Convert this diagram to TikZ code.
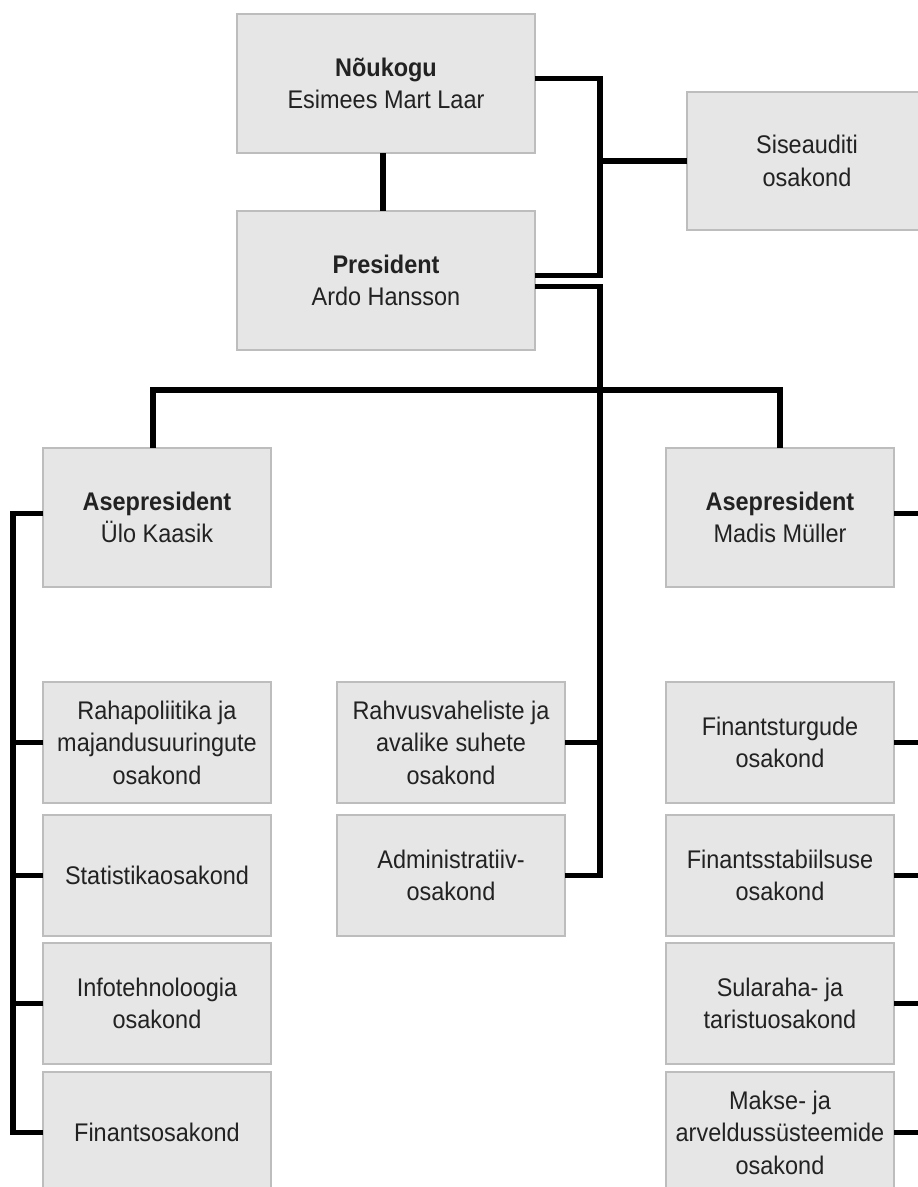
\documentclass[tikz,border=0pt]{standalone}
\usepackage{fontspec}
\setmainfont{Liberation Sans}[FakeStretch=0.92]
\definecolor{boxfill}{HTML}{E6E6E6}
\definecolor{boxline}{HTML}{BDBDBD}
\definecolor{txt}{HTML}{222222}
\tikzset{
  box/.style={draw=boxline, fill=boxfill, line width=1.4pt, minimum width=228pt,
    minimum height=121pt, inner sep=0pt, outer sep=0pt, align=center, anchor=north west,
    font=\fontsize{25.5}{32.5}\selectfont, text=txt},
  vpbox/.style={box, minimum height=139pt},
  topbox/.style={box, minimum width=298pt, minimum height=139pt},
  link/.style={line width=5.5pt, draw=black, line join=miter}
}
\begin{document}
\begin{tikzpicture}[x=1pt, y=-1pt]
\path[use as bounding box] (0,0) rectangle (918,1187);
\clip (0,0) rectangle (918,1187);
\fill[white] (0,0) rectangle (918,1187);

% top boxes
\node[topbox] (nou) at (237,14) {\textbf{Nõukogu}\\Esimees Mart Laar};
\node[topbox] (pres) at (237,211) {\textbf{President}\\Ardo Hansson};
\node[box, minimum width=240pt, minimum height=138pt] (sis) at (687,92) {Siseauditi\\osakond};

% vice presidents
\node[vpbox] (ulo) at (43,448) {\textbf{Asepresident}\\Ülo Kaasik};
\node[vpbox] (mad) at (666,448) {\textbf{Asepresident}\\Madis Müller};

% left column
\node[box] (raha) at (43,682) {Rahapoliitika ja\\majandusuuringute\\osakond};
\node[box] (stat) at (43,815) {Statistikaosakond};
\node[box] (info) at (43,943) {Infotehnoloogia\\osakond};
\node[box] (fin) at (43,1072) {Finantsosakond};

% middle column
\node[box] (rahv) at (337,682) {Rahvusvaheliste ja\\avalike suhete\\osakond};
\node[box] (adm) at (337,815) {Administratiiv-\\osakond};

% right column
\node[box] (ftur) at (666,682) {Finantsturgude\\osakond};
\node[box] (fstab) at (666,815) {Finantsstabiilsuse\\osakond};
\node[box] (sul) at (666,943) {Sularaha- ja\\taristuosakond};
\node[box] (mak) at (666,1072) {Makse- ja\\arveldussüsteemide\\osakond};

% junction coordinates
\coordinate (spine) at (600,0);
\coordinate (hb) at (0,390);
\coordinate (lsp) at (13,0);
\coordinate (rsp) at (940,0);
\coordinate (vx) at (383,0);
\coordinate (nouR) at ([yshift=5pt]nou.east);
\coordinate (presR) at ([yshift=5pt]pres.east);
\coordinate (presR2) at ([yshift=-6pt]pres.east);
\coordinate (uloL) at ([yshift=4pt]ulo.west);
\coordinate (uloT) at ([xshift=-4pt]ulo.north);
\coordinate (madR) at ([yshift=4pt]mad.east);

% connectors
\draw[link] (vx |- nou.south) -- (vx |- pres.north);
\draw[link] (nouR) -| (spine |- presR) -- (presR);
\draw[link] (sis.west) -- (spine |- sis.west);
\draw[link] (presR2) -| (spine |- adm.east) -- (adm.east);
\draw[link] (rahv.east) -- (spine |- rahv.east);
\draw[link] (uloT) |- (hb -| mad.north) -- (mad.north);

\draw[link] (uloL) -| (lsp |- fin.west) -- (fin.west);
\draw[link] (raha.west) -- (lsp |- raha.west);
\draw[link] (stat.west) -- (lsp |- stat.west);
\draw[link] (info.west) -- (lsp |- info.west);

\draw[link] (madR) -| (rsp |- mak.east) -- (mak.east);
\draw[link] (ftur.east) -- (rsp |- ftur.east);
\draw[link] (fstab.east) -- (rsp |- fstab.east);
\draw[link] (sul.east) -- (rsp |- sul.east);
\end{tikzpicture}
\end{document}
